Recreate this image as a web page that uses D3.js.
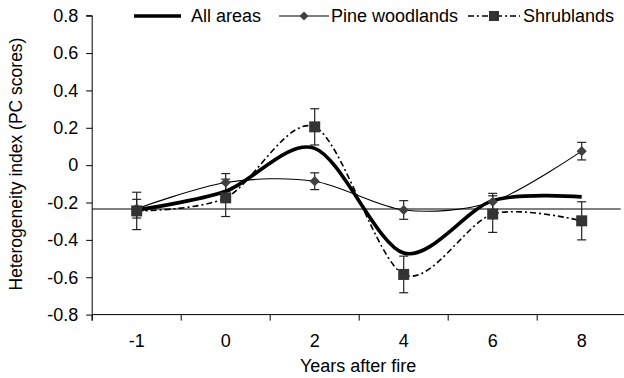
<!DOCTYPE html>
<html>
<head>
<meta charset="utf-8">
<script src="https://cdn.jsdelivr.net/npm/d3@7"></script>
<style>
  body { margin: 0; background: #fff; }
  text { font-family: "Liberation Sans", Arial, sans-serif; }
</style>
</head>
<body>
<div id="chart"></div>
<script>
var years = ["-1", "0", "2", "4", "6", "8"];
var allAreas = [-0.24, -0.14, 0.09, -0.47, -0.19, -0.17];
var pine = [-0.233, -0.093, -0.086, -0.24, -0.196, 0.075];
var pineErr = [0.05, 0.048, 0.045, 0.05, 0.045, 0.047];
var shrub = [-0.245, -0.175, 0.205, -0.585, -0.262, -0.298];
var shrubErr = [0.1, 0.1, 0.097, 0.098, 0.098, 0.102];
var refLine = -0.235;
var yTicks = [0.8, 0.6, 0.4, 0.2, 0, -0.2, -0.4, -0.6, -0.8];
var yTickLabels = ["0.8", "0.6", "0.4", "0.2", "0", "-0.2", "-0.4", "-0.6", "-0.8"];

function init() {
    var W = 624, H = 378;
    var left = 92.2, top = 15.7, bottom = 314.6;
    var bandW = 89;

    var svg = d3.select("#chart").append("svg")
        .attr("width", W).attr("height", H);

    var x = d3.scaleBand().domain(years).range([left, left + bandW * years.length]);
    var y = d3.scaleLinear().domain([-0.8, 0.8]).range([bottom, top]);
    var cx = d => x(d) + x.bandwidth() / 2;

    // y axis
    var yAxis = svg.append("g")
        .attr("transform", `translate(${left},0)`)
        .call(d3.axisLeft(y).tickValues(yTicks).tickSize(6).tickPadding(8)
            .tickFormat((d, i) => yTickLabels[i]));
    yAxis.selectAll("text").style("font-size", "18px").attr("fill", "#000");
    yAxis.selectAll("line, path").attr("stroke", "#000");
    yAxis.select(".domain").attr("d", `M-6,${top}H0V${bottom + 6}`);

    // x axis (labels at centres, ticks at band edges)
    var xAxis = svg.append("g")
        .attr("transform", `translate(0,${bottom})`)
        .call(d3.axisBottom(x).tickSize(0).tickPadding(20));
    xAxis.selectAll("text").style("font-size", "18px").attr("fill", "#000");
    xAxis.select(".domain").attr("stroke", "#000").attr("d", `M${left},0H${W}`);
    var edges = years.map(d => x(d)).concat([x(years[years.length - 1]) + bandW]);
    xAxis.selectAll(".edge").data(edges).enter().append("line")
        .attr("x1", d => d).attr("x2", d => d)
        .attr("y1", 0).attr("y2", 6)
        .attr("stroke", "#000");

    // reference line
    svg.append("line")
        .attr("x1", left).attr("x2", 620.7)
        .attr("y1", y(refLine)).attr("y2", y(refLine))
        .attr("stroke", "#000").attr("stroke-width", 1.1);

    var curve = d3.curveCardinal.tension(0.1);
    var line = d3.line().x((d, i) => cx(years[i])).y(d => y(d)).curve(curve);

    // error bars
    function errBars(vals, errs, cap) {
        var g = svg.append("g").attr("stroke", "#222").attr("stroke-width", 1.2);
        vals.forEach(function(v, i) {
            var px = cx(years[i]);
            g.append("line").attr("x1", px).attr("x2", px)
                .attr("y1", y(v + errs[i])).attr("y2", y(v - errs[i]));
            [v + errs[i], v - errs[i]].forEach(function(e) {
                g.append("line").attr("x1", px - cap).attr("x2", px + cap)
                    .attr("y1", y(e)).attr("y2", y(e));
            });
        });
    }
    errBars(shrub, shrubErr, 4.5);
    errBars(pine, pineErr, 4.5);

    // pine woodlands
    svg.append("path").datum(pine)
        .attr("d", line).attr("fill", "none")
        .attr("stroke", "#000").attr("stroke-width", 1.1);

    // shrublands
    svg.append("path").datum(shrub)
        .attr("d", line).attr("fill", "none")
        .attr("stroke", "#000").attr("stroke-width", 1.6)
        .attr("stroke-dasharray", "6,3,2,3");

    // all areas
    svg.append("path").datum(allAreas)
        .attr("d", line).attr("fill", "none")
        .attr("stroke", "#000").attr("stroke-width", 3.6)
        .attr("stroke-linejoin", "round");

    svg.selectAll(".dia").data(pine).enter().append("path")
        .attr("d", d3.symbol().type(d3.symbolSquare).size(52))
        .attr("transform", (d, i) => `translate(${cx(years[i])},${y(d)}) rotate(45)`)
        .attr("fill", "#404040");

    svg.selectAll(".sq").data(shrub).enter().append("rect")
        .attr("x", (d, i) => cx(years[i]) - 5.5)
        .attr("y", d => y(d) - 5.5)
        .attr("width", 11).attr("height", 11)
        .attr("fill", "#333");

    // legend
    var ly = 16;
    var lg = svg.append("g");
    lg.append("line").attr("x1", 134).attr("x2", 181).attr("y1", ly).attr("y2", ly)
        .attr("stroke", "#000").attr("stroke-width", 3.6);
    lg.append("text").attr("x", 191).attr("y", ly + 6).style("font-size", "18px").text("All areas");

    lg.append("line").attr("x1", 279).attr("x2", 329).attr("y1", ly).attr("y2", ly)
        .attr("stroke", "#000").attr("stroke-width", 1.1);
    lg.append("path").attr("d", d3.symbol().type(d3.symbolSquare).size(40))
        .attr("transform", `translate(304,${ly}) rotate(45)`).attr("fill", "#404040");
    lg.append("text").attr("x", 331).attr("y", ly + 6).style("font-size", "18px").text("Pine woodlands");

    lg.append("line").attr("x1", 468).attr("x2", 520).attr("y1", ly).attr("y2", ly)
        .attr("stroke", "#000").attr("stroke-width", 1.6)
        .attr("stroke-dasharray", "6,3,2,3");
    lg.append("rect").attr("x", 489).attr("y", ly - 5).attr("width", 10).attr("height", 10)
        .attr("fill", "#333");
    lg.append("text").attr("x", 523).attr("y", ly + 6).style("font-size", "18px").text("Shrublands");

    // axis titles
    svg.append("text")
        .attr("x", (left + W) / 2).attr("y", 372)
        .attr("text-anchor", "middle").style("font-size", "18px")
        .text("Years after fire");

    svg.append("text")
        .attr("transform", "translate(22,164) rotate(-90)")
        .attr("text-anchor", "middle").style("font-size", "17.5px")
        .text("Heterogeneity index (PC scores)");
}

window.onload = init;
</script>
</body>
</html>
